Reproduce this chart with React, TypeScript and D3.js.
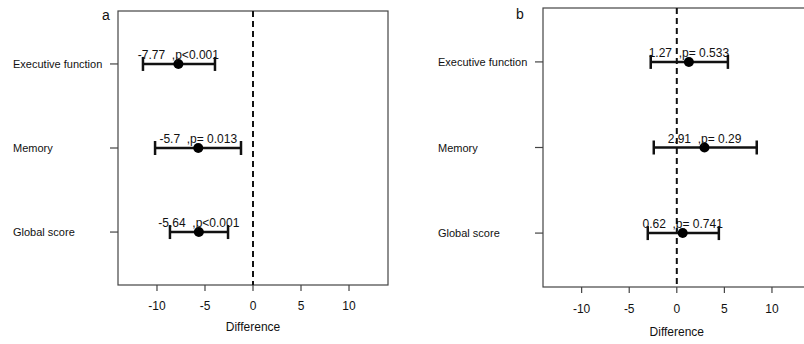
import React, { useRef, useEffect } from "react";
import * as d3 from "d3";

// outcomes, top to bottom
const outcomes = ["Executive function", "Memory", "Global score"];

// panel a
const estA = [-7.77, -5.7, -5.64];
const lowA = [-11.46, -10.2, -8.65];
const highA = [-3.96, -1.25, -2.6];
const pA = ["p<0.001", "p= 0.013", "p<0.001"];
const estLabelA = ["-7.77", "-5.7", "-5.64"];

// panel b
const estB = [1.27, 2.91, 0.62];
const lowB = [-2.74, -2.42, -3.05];
const highB = [5.37, 8.4, 4.42];
const pB = ["p= 0.533", "p= 0.29", "p= 0.741"];
const estLabelB = ["1.27", "2.91", "0.62"];

const xTicks = [-10, -5, 0, 5, 10];

const App = () => {
	const chartRef = useRef<SVGSVGElement>(null);

	useEffect(() => {
		const width = 804;
		const height = 344;
		const font = "Liberation Sans, Arial, sans-serif";

		d3.select(chartRef.current).selectAll("*").remove();

		const svg = d3
			.select(chartRef.current)
			.attr("width", width)
			.attr("height", height);

		const drawPanel = (cfg) => {
			const g = svg.append("g");

			const xScale = d3.scaleLinear()
				.domain([-14.06, 14.06])
				.range([cfg.left, cfg.right]);

			const yScale = d3.scaleLinear()
				.domain([0.37, 3.63])
				.range([cfg.top, cfg.bottom]);

			const rows = outcomes.map((name, i) => ({
				name,
				y: i + 1,
				est: cfg.est[i],
				low: cfg.low[i],
				high: cfg.high[i],
				label: `${cfg.estLabel[i]}  ,${cfg.p[i]}`
			}));

			// box
			g.append("rect")
				.attr("x", cfg.left)
				.attr("y", cfg.top)
				.attr("width", cfg.right - cfg.left)
				.attr("height", cfg.bottom - cfg.top)
				.attr("fill", "none")
				.attr("stroke", "#444")
				.attr("stroke-width", 1.2);

			// x ticks
			g.selectAll(".xtick")
				.data(xTicks)
				.enter()
				.append("line")
				.attr("x1", d => xScale(d))
				.attr("x2", d => xScale(d))
				.attr("y1", cfg.bottom)
				.attr("y2", cfg.bottom + 6)
				.attr("stroke", "#444")
				.attr("stroke-width", 1.2);

			g.selectAll(".xlab")
				.data(xTicks)
				.enter()
				.append("text")
				.attr("x", d => xScale(d))
				.attr("y", cfg.tickLabelY)
				.attr("text-anchor", "middle")
				.attr("font-family", font)
				.attr("font-size", 12)
				.attr("fill", "#111")
				.text(d => d);

			g.append("text")
				.attr("x", xScale(0))
				.attr("y", cfg.titleY)
				.attr("text-anchor", "middle")
				.attr("font-family", font)
				.attr("font-size", 12)
				.attr("fill", "#111")
				.text("Difference");

			// y ticks and labels
			g.selectAll(".ytick")
				.data(rows)
				.enter()
				.append("line")
				.attr("x1", cfg.left - 8)
				.attr("x2", cfg.left)
				.attr("y1", d => yScale(d.y))
				.attr("y2", d => yScale(d.y))
				.attr("stroke", "#444")
				.attr("stroke-width", 1.2);

			g.selectAll(".ylab")
				.data(rows)
				.enter()
				.append("text")
				.attr("x", cfg.labelX)
				.attr("y", d => yScale(d.y))
				.attr("dominant-baseline", "central")
				.attr("font-family", font)
				.attr("font-size", 11)
				.attr("fill", "#111")
				.text(d => d.name);

			// zero line
			g.append("line")
				.attr("x1", xScale(0))
				.attr("x2", xScale(0))
				.attr("y1", cfg.top)
				.attr("y2", cfg.bottom)
				.attr("stroke", "#111")
				.attr("stroke-width", 2)
				.attr("stroke-dasharray", "6,4");

			// confidence intervals
			g.selectAll(".ci")
				.data(rows)
				.enter()
				.append("line")
				.attr("x1", d => xScale(d.low))
				.attr("x2", d => xScale(d.high))
				.attr("y1", d => yScale(d.y))
				.attr("y2", d => yScale(d.y))
				.attr("stroke", "#111")
				.attr("stroke-width", 2.5);

			["low", "high"].forEach(k => {
				g.selectAll(".cap-" + k)
					.data(rows)
					.enter()
					.append("line")
					.attr("x1", d => xScale(d[k]))
					.attr("x2", d => xScale(d[k]))
					.attr("y1", d => yScale(d.y) - 7)
					.attr("y2", d => yScale(d.y) + 7)
					.attr("stroke", "#111")
					.attr("stroke-width", 2.5);
			});

			g.selectAll(".pt")
				.data(rows)
				.enter()
				.append("circle")
				.attr("cx", d => xScale(d.est))
				.attr("cy", d => yScale(d.y))
				.attr("r", 5)
				.attr("fill", "#000");

			g.selectAll(".lab")
				.data(rows)
				.enter()
				.append("text")
				.attr("x", d => xScale(d.est))
				.attr("y", d => yScale(d.y) - 5)
				.attr("text-anchor", "middle")
				.attr("font-family", font)
				.attr("font-size", 12)
				.attr("fill", "#111")
				.style("white-space", "pre")
				.text(d => d.label);

			// panel letter
			g.append("text")
				.attr("x", cfg.letterX)
				.attr("y", cfg.letterY)
				.attr("font-family", font)
				.attr("font-size", 14)
				.attr("fill", "#111")
				.text(cfg.letter);
		};

		drawPanel({
			letter: "a", letterX: 102, letterY: 20,
			left: 118, right: 388, top: 11, bottom: 285,
			labelX: 13, tickLabelY: 310, titleY: 331,
			est: estA, low: lowA, high: highA, p: pA, estLabel: estLabelA
		});

		drawPanel({
			letter: "b", letterX: 516, letterY: 19,
			left: 543, right: 810.6, top: 8, bottom: 287,
			labelX: 438, tickLabelY: 313, titleY: 336,
			est: estB, low: lowB, high: highB, p: pB, estLabel: estLabelB
		});
	}, []);

	return <svg ref={chartRef} style={{ position: "absolute", left: 0, top: 0, background: "#fff" }}></svg>;
};

export default App;
